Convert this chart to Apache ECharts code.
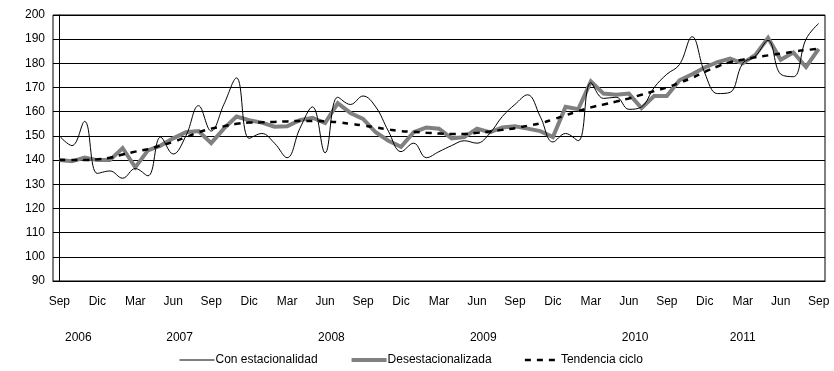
<!DOCTYPE html>
<html>
<head>
<meta charset="utf-8">
<script src="https://cdn.jsdelivr.net/npm/echarts@6/dist/echarts.min.js"></script>
<style>
  html, body { margin: 0; padding: 0; background: #fff; }
  #chart { width: 834px; height: 371px; }
</style>
</head>
<body>
<div id="chart"></div>
<script>
// Monthly index, Sep 2006 – Sep 2011
const months = [
  'Sep','Oct','Nov','Dic',
  'Ene','Feb','Mar','Abr','May','Jun','Jul','Ago','Sep','Oct','Nov','Dic',
  'Ene','Feb','Mar','Abr','May','Jun','Jul','Ago','Sep','Oct','Nov','Dic',
  'Ene','Feb','Mar','Abr','May','Jun','Jul','Ago','Sep','Oct','Nov','Dic',
  'Ene','Feb','Mar','Abr','May','Jun','Jul','Ago','Sep','Oct','Nov','Dic',
  'Ene','Feb','Mar','Abr','May','Jun','Jul','Ago','Sep'
];

// Original series (with seasonality)
const conEstacionalidad = [
  150, 146, 156, 134.5,
  135.5, 132.5, 136.5, 133.5, 149.5, 142.5, 150, 162.5, 152, 163, 174, 149,
  151, 147, 141, 153, 162, 143, 166, 163, 166.5, 162, 152, 143.5,
  147, 141, 143.5, 146, 148, 147, 151, 158, 163, 167, 158, 147.5,
  151, 148, 172, 165.5, 166, 161, 162, 170, 175.5, 179.5, 191, 176,
  167.5, 168, 180, 183, 189.5, 175.5, 174.5, 190, 196.5
];

// Seasonally adjusted series
const desestacionalizada = [
  140, 139.5, 141, 140,
  140, 145, 137, 144, 146, 149, 151.5, 152, 147, 153, 158, 156.5,
  155.5, 153.8, 154, 156.5, 157.5, 155.3, 163.5, 159.5, 157, 151.5, 148, 145.5,
  151.5, 153.5, 153, 149, 149.5, 153, 151.5, 153.5, 154, 153, 152, 149.5,
  162, 161, 172.5, 167.5, 167, 167.5, 161.5, 166.5, 166.5, 173, 175.5, 178.3,
  180.5, 182, 180, 183.5, 190.5, 181.5, 184.5, 178.5, 186
];

// Trend-cycle component
const tendenciaCiclo = [
  140, 140, 140, 140.3,
  141, 142.3, 143.5, 144.5, 146, 147.5, 149.5, 151.5, 153, 154, 155, 155.5,
  155.6, 155.8, 156, 156.2, 156.2, 156, 155.7, 155, 154.3, 153.5, 152.7, 152,
  151.7, 151.3, 151, 150.8, 150.8, 151.3, 151.8, 152.5, 153.2, 154.2, 155.2, 156.8,
  158.5, 160.2, 161.8, 163, 164.2, 165.5, 167, 168.5, 170, 172, 174, 176.5,
  178.7, 180.5, 181.5, 182.5, 183.3, 184, 184.8, 185.5, 186
];

// Year captions and the month position (category units) each is centred on
const yearLabels = ['2006', '2007', '2008', '2009', '2010', '2011'];
const yearCenters = [1.5, 9.5, 21.5, 33.5, 45.5, 54];

const seriesNames = ['Con estacionalidad', 'Desestacionalizada', 'Tendencia ciclo'];

const FONT = '"Liberation Sans", Arial, sans-serif';

const chart = echarts.init(document.getElementById('chart'), null, { renderer: 'canvas' });

chart.setOption({
  animation: false,
  backgroundColor: '#ffffff',
  textStyle: { fontFamily: FONT },
  grid: {
    left: 53, right: 9, top: 15, bottom: 90,
    show: true, borderColor: '#000', borderWidth: 1
  },
  legend: {
    left: 174, top: 349,
    itemWidth: 35, itemHeight: 10, itemGap: 32,
    itemStyle: { opacity: 0 },
    lineStyle: { width: 'inherit' },
    textStyle: { fontFamily: FONT, fontSize: 12, color: '#000', padding: [0, 0, 0, -4] },
    data: seriesNames
  },
  xAxis: [
    {
      type: 'category',
      data: months,
      boundaryGap: true,
      axisLine: { show: true, lineStyle: { color: '#000', width: 1 } },
      axisTick: { show: false },
      axisLabel: {
        interval: 2, margin: 15,
        fontFamily: FONT, fontSize: 12, color: '#000'
      }
    },
    {
      // year captions under the month labels
      type: 'value',
      position: 'bottom',
      min: -0.5, max: 60.5, interval: 0.5,
      axisLine: { show: false },
      axisTick: { show: false },
      splitLine: { show: false },
      axisLabel: {
        margin: 51,
        fontFamily: FONT, fontSize: 12, color: '#000',
        showMinLabel: true, showMaxLabel: true,
        formatter: function (v) {
          for (let i = 0; i < yearCenters.length; i++) {
            if (Math.abs(v - yearCenters[i]) < 1e-6) return yearLabels[i];
          }
          return '';
        }
      }
    }
  ],
  yAxis: {
    type: 'value',
    min: 90, max: 200, interval: 10,
    axisLine: { show: true, lineStyle: { color: '#000', width: 1 } },
    axisTick: { show: true, length: 5, lineStyle: { color: '#000' } },
    splitLine: { show: true, lineStyle: { color: '#000', width: 1 } },
    axisLabel: { margin: 8, fontFamily: FONT, fontSize: 12, color: '#000' }
  },
  series: [
    {
      name: seriesNames[0],
      type: 'line',
      data: conEstacionalidad,
      smooth: 0.4,
      symbol: 'none',
      z: 3,
      lineStyle: { color: '#000', width: 1 },
      itemStyle: { color: '#000' }
    },
    {
      name: seriesNames[1],
      type: 'line',
      data: desestacionalizada,
      symbol: 'none',
      z: 2,
      lineStyle: { color: '#808080', width: 4, join: 'miter' },
      itemStyle: { color: '#808080' }
    },
    {
      name: seriesNames[2],
      type: 'line',
      data: tendenciaCiclo,
      smooth: 0.4,
      symbol: 'none',
      z: 4,
      lineStyle: { color: '#000', width: 2.5, type: [6, 6] },
      itemStyle: { color: '#000' }
    }
  ]
});
</script>
</body>
</html>
